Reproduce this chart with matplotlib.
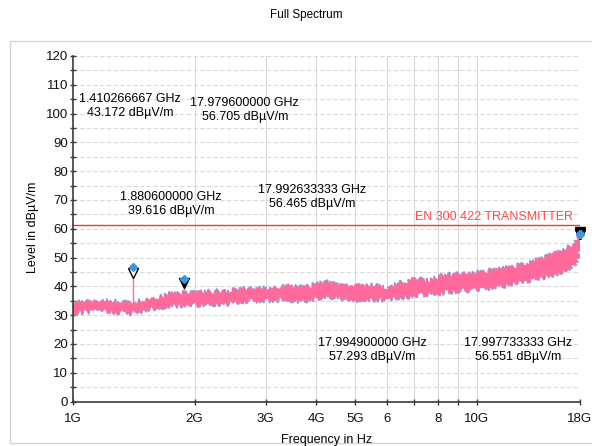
import numpy as np
import matplotlib
matplotlib.use("Agg")
import matplotlib.pyplot as plt
from matplotlib.ticker import FixedLocator, NullFormatter
from matplotlib.patches import Rectangle
import matplotlib.transforms as mtransforms

plt.rcParams['font.family'] = ['Liberation Sans', 'DejaVu Sans']
plt.rcParams['font.size'] = 9

# trace envelope (GHz, dBuV/m)
freq_ghz = [1.00, 1.08, 1.167, 1.235, 1.30, 1.36, 1.41, 1.47, 1.55, 1.63, 1.71, 1.80,
            1.87, 1.96, 2.06, 2.17, 2.27, 2.38, 2.49, 2.60, 2.70, 2.85, 3.02, 3.15,
            3.31, 3.45, 3.65, 3.90, 4.20, 4.45, 4.65, 4.90, 5.15, 5.40, 5.67, 5.97,
            6.20, 6.45, 6.80, 7.10, 7.40, 7.65, 8.00, 8.40, 8.80, 9.20, 9.60, 10.1,
            10.6, 11.1, 11.7, 12.3, 12.9, 13.6, 14.2, 14.9, 15.6, 16.4, 16.9, 17.3,
            17.7, 18.0]
level_upper = [33.9, 34.3, 34.7, 35.0, 34.4, 34.0, 33.8, 35.0, 35.9, 36.3, 37.0, 37.2,
               37.6, 37.4, 37.8, 37.9, 38.1, 38.0, 38.4, 38.7, 39.3, 38.9, 39.3, 39.0,
               39.9, 39.9, 39.3, 40.2, 41.4, 40.6, 39.8, 40.3, 39.9, 40.4, 40.1, 39.3,
               40.2, 41.0, 41.5, 42.8, 42.0, 42.1, 42.9, 43.9, 43.6, 44.5, 44.0, 44.5,
               45.0, 45.7, 46.0, 46.8, 47.2, 48.0, 49.0, 50.3, 51.0, 52.6, 53.5, 54.3,
               55.5, 57.2]
level_lower = [30.8, 31.3, 31.8, 31.4, 31.0, 30.6, 30.9, 31.6, 32.4, 32.8, 33.2, 33.3,
               33.5, 33.4, 33.9, 34.0, 34.1, 34.0, 34.3, 34.8, 35.2, 35.0, 35.2, 35.3,
               35.8, 35.5, 34.9, 35.6, 36.4, 36.2, 36.0, 35.6, 35.2, 35.6, 35.6, 35.3,
               35.8, 36.4, 36.6, 37.0, 37.2, 37.6, 37.8, 38.1, 38.3, 38.7, 38.8, 39.3,
               39.5, 39.9, 40.4, 41.0, 41.5, 42.2, 42.7, 43.3, 44.2, 45.7, 46.5, 47.4,
               49.5, 53.8]

# markers
marker_ghz = [1.410266667, 17.979600000, 1.880600000, 17.992633333, 17.994900000, 17.997733333]
marker_level = [43.172, 56.705, 39.616, 56.465, 57.293, 56.551]
marker_blue = [46.8, 58.2, 42.6, 58.2, 58.2, 58.2]
stem_base = [32.0, 56.705, 34.8, 56.465, 57.293, 56.551]
# annotation centres (axes fraction)
label_pos = [(0.112, 0.855), (0.339, 0.844), (0.193, 0.572),
             (0.471, 0.592), (0.590, 0.148), (0.878, 0.148)]

limit_level = 61.3
limit_name = "EN 300 422 TRANSMITTER"

xtick_ghz = [1, 2, 3, 4, 5, 6, 8, 10, 18]
xtick_labels = ["1G", "2G", "3G", "4G", "5G", "6", "8", "10G", "18G"]
xminor_ghz = [7, 9]
vgrid_ghz = [2, 3, 4, 5, 6, 7, 8, 9, 10, 18]

fig = plt.figure(figsize=(5.92, 4.46), dpi=100)
ax = fig.add_axes([73 / 592, 1 - 401.5 / 446, 507 / 592, 345.5 / 446])

f = np.array(freq_ghz) * 1e9
poly_x = np.concatenate([f, f[::-1]])
poly_y = np.concatenate([level_lower, level_upper[::-1]])
blue = ax.fill(poly_x, poly_y, fc='#72b8f0', ec='#72b8f0', lw=1.2, zorder=3)[0]
pink = ax.fill(poly_x, poly_y, fc='#ff6a9b', ec='#ff6a9b', lw=0.8, zorder=4)[0]
# jagged, noisy look of the receiver trace
blue.set_sketch_params(scale=3.0, length=1.0, randomness=20)
pink.set_sketch_params(scale=2.5, length=1.0, randomness=20)

ax.axhline(limit_level, color='#ee3b3b', lw=1.0, zorder=5)
ax.text(0.987, limit_level + 0.6, limit_name, transform=ax.get_yaxis_transform(),
        ha='right', va='bottom', color='#ff4a4a', fontsize=9, zorder=6)

mf = np.array(marker_ghz) * 1e9
ax.vlines(mf, stem_base, marker_level, color='#ff6b9c', lw=1.0, zorder=5)
up = mtransforms.offset_copy(ax.transData, fig=fig, x=0, y=3.3, units='points')
for i in range(len(mf)):
    face = 'white' if i == 0 else 'black'
    ax.plot(mf[i], marker_level[i], marker='v', ms=7, mfc=face, mec='black', mew=1.0,
            transform=up, clip_on=False, zorder=7)
ax.plot(mf, marker_blue, linestyle='none', marker='D', ms=3.6, mfc='#3d95e0', mec='#3d95e0',
        clip_on=False, zorder=8)

for i in range(len(mf)):
    txt = "%.9f GHz\n%.3f dB\u00b5V/m" % (marker_ghz[i], marker_level[i])
    ax.text(label_pos[i][0], label_pos[i][1], txt, transform=ax.transAxes,
            ha='center', va='center', fontsize=9, linespacing=1.2, zorder=9)

ax.set_xscale('log')
ax.set_xlim(1e9, 18e9)
ax.set_ylim(0, 120)
ax.xaxis.set_major_locator(FixedLocator([g * 1e9 for g in xtick_ghz]))
ax.set_xticklabels(xtick_labels)
ax.xaxis.set_minor_locator(FixedLocator([g * 1e9 for g in xminor_ghz]))
ax.xaxis.set_minor_formatter(NullFormatter())
ax.set_yticks(np.arange(0, 121, 10))
ax.set_yticks(np.arange(5, 120, 10), minor=True)

for g in vgrid_ghz:
    ax.axvline(g * 1e9, color='#d9d9d9', lw=0.8, zorder=1)
for v in np.arange(5, 121, 5):
    ax.axhline(v, color='#d9d9d9', lw=0.8, ls=(0, (4, 2)), zorder=1)

for s in ['top', 'right']:
    ax.spines[s].set_visible(False)
for s in ['left', 'bottom']:
    ax.spines[s].set_color('#3a3a3a')
    ax.spines[s].set_linewidth(1.2)
    ax.spines[s].set_zorder(6)
ax.tick_params(which='both', direction='inout', length=5, width=1.0, color='#3a3a3a',
               labelsize=9.5, labelcolor='#111111')
ax.tick_params(axis='x', pad=6)
ax.tick_params(axis='y', pad=1)

fig.text(327 / 592, 1 - 440 / 446, "Frequency in Hz", ha='center', va='center', fontsize=9)
fig.text(33 / 592, 1 - 227 / 446, "Level in dB\u00b5V/m", ha='center', va='center',
         rotation=90, fontsize=9)
fig.text(306 / 592, 1 - 15 / 446, "Full Spectrum", ha='center', va='center', fontsize=8.5)

fig.patches.append(Rectangle((10 / 592, 3 / 446), 1.0, (443 - 41) / 446,
                             transform=fig.transFigure, fill=False,
                             edgecolor='#d4d4d4', lw=1.0, zorder=0))

fig.savefig("out.png", dpi=100)
